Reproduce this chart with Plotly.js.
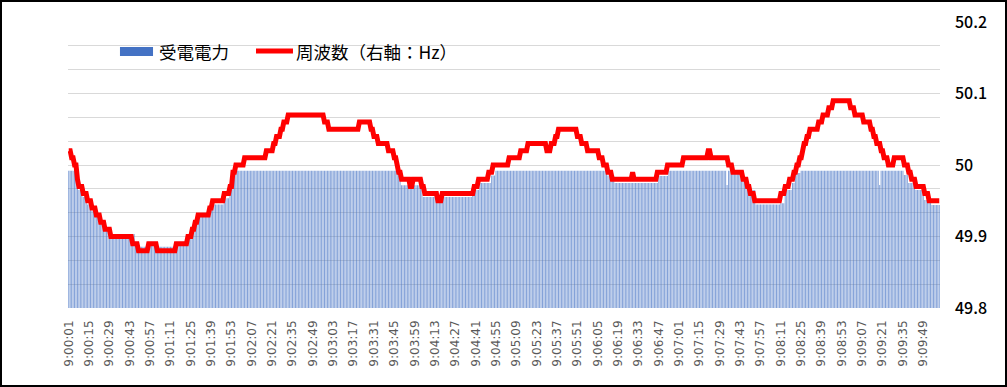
<!DOCTYPE html>
<html><head><meta charset="utf-8">
<script src="https://cdn.plot.ly/plotly-3.0.1.min.js"></script>
<style>
html,body{margin:0;padding:0;background:#fff;}
#frame{width:1007px;height:387px;box-sizing:border-box;border:2px solid #000;position:relative;overflow:hidden;}
#chart{width:1003px;height:383px;}
</style></head><body>
<div id="frame"><div id="chart"></div></div>
<script>
// Time axis: one sample per second, 9:00:01 .. 9:10:00
const totalSeconds = 600;
const tickSeconds = [1,15,29,43,57,71,85,99,113,127,141,155,169,183,197,211,225,239,253,267,281,295,309,323,337,351,365,379,393,407,421,435,449,463,477,491,505,519,533,547,561,575,589];
const tickLabels = ["9:00:01","9:00:15","9:00:29","9:00:43","9:00:57","9:01:11","9:01:25","9:01:39","9:01:53","9:02:07","9:02:21","9:02:35","9:02:49","9:03:03","9:03:17","9:03:31","9:03:45","9:03:59","9:04:13","9:04:27","9:04:41","9:04:55","9:05:09","9:05:23","9:05:37","9:05:51","9:06:05","9:06:19","9:06:33","9:06:47","9:07:01","9:07:15","9:07:29","9:07:43","9:07:57","9:08:11","9:08:25","9:08:39","9:08:53","9:09:07","9:09:21","9:09:35","9:09:49"];

// 周波数 (Hz): second at which each held value starts, and the value
const freqRunStart = [1,3,5,7,8,11,14,17,20,23,26,30,45,49,56,62,75,83,86,88,90,98,100,108,112,114,116,122,137,142,144,147,149,152,177,180,201,209,211,214,221,225,227,228,230,236,238,244,246,255,258,280,283,290,293,304,312,317,330,333,336,338,351,354,358,366,369,372,375,389,390,406,413,424,441,443,455,458,465,468,470,473,491,494,497,500,502,504,506,507,509,511,517,520,524,527,539,542,548,553,555,557,560,562,565,569,576,579,581,584,590,593];
const freqRunValue = [50.02,50.01,50.00,49.98,49.97,49.96,49.95,49.94,49.93,49.92,49.91,49.90,49.89,49.88,49.89,49.88,49.89,49.90,49.91,49.92,49.93,49.94,49.95,49.96,49.97,49.99,50.00,50.01,50.02,50.03,50.04,50.05,50.06,50.07,50.06,50.05,50.06,50.05,50.04,50.03,50.02,50.01,50.00,49.99,49.98,49.97,49.98,49.97,49.96,49.95,49.96,49.97,49.98,49.99,50.00,50.01,50.02,50.03,50.02,50.03,50.04,50.05,50.04,50.03,50.02,50.01,50.00,49.99,49.98,49.99,49.98,49.99,50.00,50.01,50.02,50.01,50.00,49.99,49.98,49.97,49.96,49.95,49.96,49.97,49.98,49.99,50.00,50.01,50.02,50.03,50.04,50.05,50.06,50.07,50.08,50.09,50.08,50.07,50.06,50.05,50.04,50.03,50.02,50.01,50.00,50.01,50.00,49.99,49.98,49.97,49.96,49.95];

// 受電電力 (left axis, unlabeled): second at which each held value starts, and the value
const powerRunStart = [1,7,8,11,14,17,20,23,26,30,47,49,56,62,75,83,86,88,90,98,100,108,112,114,116,228,230,245,279,284,292,295,372,377,407,414,454,455,461,465,469,474,491,494,499,501,505,559,560,576,579,584,590,595];
const powerRunValue = [576,524,495,466,434,408,383,355,332,310,278,257,278,257,278,310,332,355,383,408,434,461,495,556,576,556,515,466,495,524,556,576,556,524,554,576,516,576,566,537,495,434,440,495,524,566,576,516,576,558,524,495,453,432];

function expandRuns(starts, values, n) {
  const out = [];
  let k = 0;
  for (let s = 1; s <= n; s++) {
    while (k + 1 < starts.length && starts[k + 1] <= s) k++;
    out.push(values[k]);
  }
  return out;
}
const seconds = [];
for (let s = 1; s <= totalSeconds; s++) seconds.push(s);
const freq = expandRuns(freqRunStart, freqRunValue, totalSeconds);
const power = expandRuns(powerRunStart, powerRunValue, totalSeconds);

const traces = [
  {type:'bar', x: seconds, y: power, name:'受電電力', marker:{color:'#4472C4', opacity:0.66, line:{width:0}}, hoverinfo:'skip'},
  {type:'scatter', mode:'lines', x: seconds, y: freq, yaxis:'y2', name:'周波数（右軸：Hz）', line:{color:'#FF0000', width:5}, hoverinfo:'skip'}
];

// legend (drawn in paper coordinates)
const legFont = {family:'"Noto Sans CJK JP", sans-serif', size:17.5, color:'#000'};
const layout = {
  width:1003, height:383,
  margin:{l:66, r:65, t:20, b:77, pad:0},
  paper_bgcolor:'#fff', plot_bgcolor:'#fff',
  showlegend:false,
  bargap:0.3,
  xaxis:{range:[0.5, totalSeconds + 0.5], tickmode:'array', tickvals: tickSeconds, ticktext: tickLabels,
         tickangle:-90, tickfont:{family:'"DejaVu Sans", sans-serif', size:12, color:'#595959'},
         showgrid:false, zeroline:false, showline:false, ticks:'', ticklabelstandoff:9, fixedrange:true},
  yaxis:{range:[0,1200], dtick:100, tick0:0, showticklabels:false, showgrid:true, gridcolor:'#d9d9d9', gridwidth:1,
         zeroline:false, showline:false, ticks:'', fixedrange:true},
  yaxis2:{overlaying:'y', side:'right', range:[49.8,50.2], tickmode:'array', tickvals:[49.8,49.9,50,50.1,50.2],
          ticktext:['49.8','49.9','50','50.1','50.2'],
          showgrid:false, zeroline:false, showline:false, ticks:'', ticklabelstandoff:14,
          tickfont:{family:'"Noto Sans CJK JP", sans-serif', size:16, weight:500, color:'#000'}, fixedrange:true},
  shapes:[
    {type:'rect', xref:'paper', yref:'paper', x0:0.0596, x1:0.0975, y0:0.881, y1:0.9126, fillcolor:'#4472C4', line:{width:0}},
    {type:'line', xref:'paper', yref:'paper', x0:0.2156, x1:0.2580, y0:0.8986, y1:0.8986, line:{color:'#FF0000', width:5}}
  ],
  annotations:[
    {xref:'paper', yref:'paper', x:0.1020, y:0.8986, xanchor:'left', yanchor:'middle', text:'受電電力', showarrow:false, font:legFont},
    {xref:'paper', yref:'paper', x:0.2590, y:0.8986, xanchor:'left', yanchor:'middle', text:'周波数（右軸：Hz）', showarrow:false, font:legFont}
  ]
};
Plotly.newPlot('chart', traces, layout, {staticPlot:true, displayModeBar:false});
</script></body></html>
